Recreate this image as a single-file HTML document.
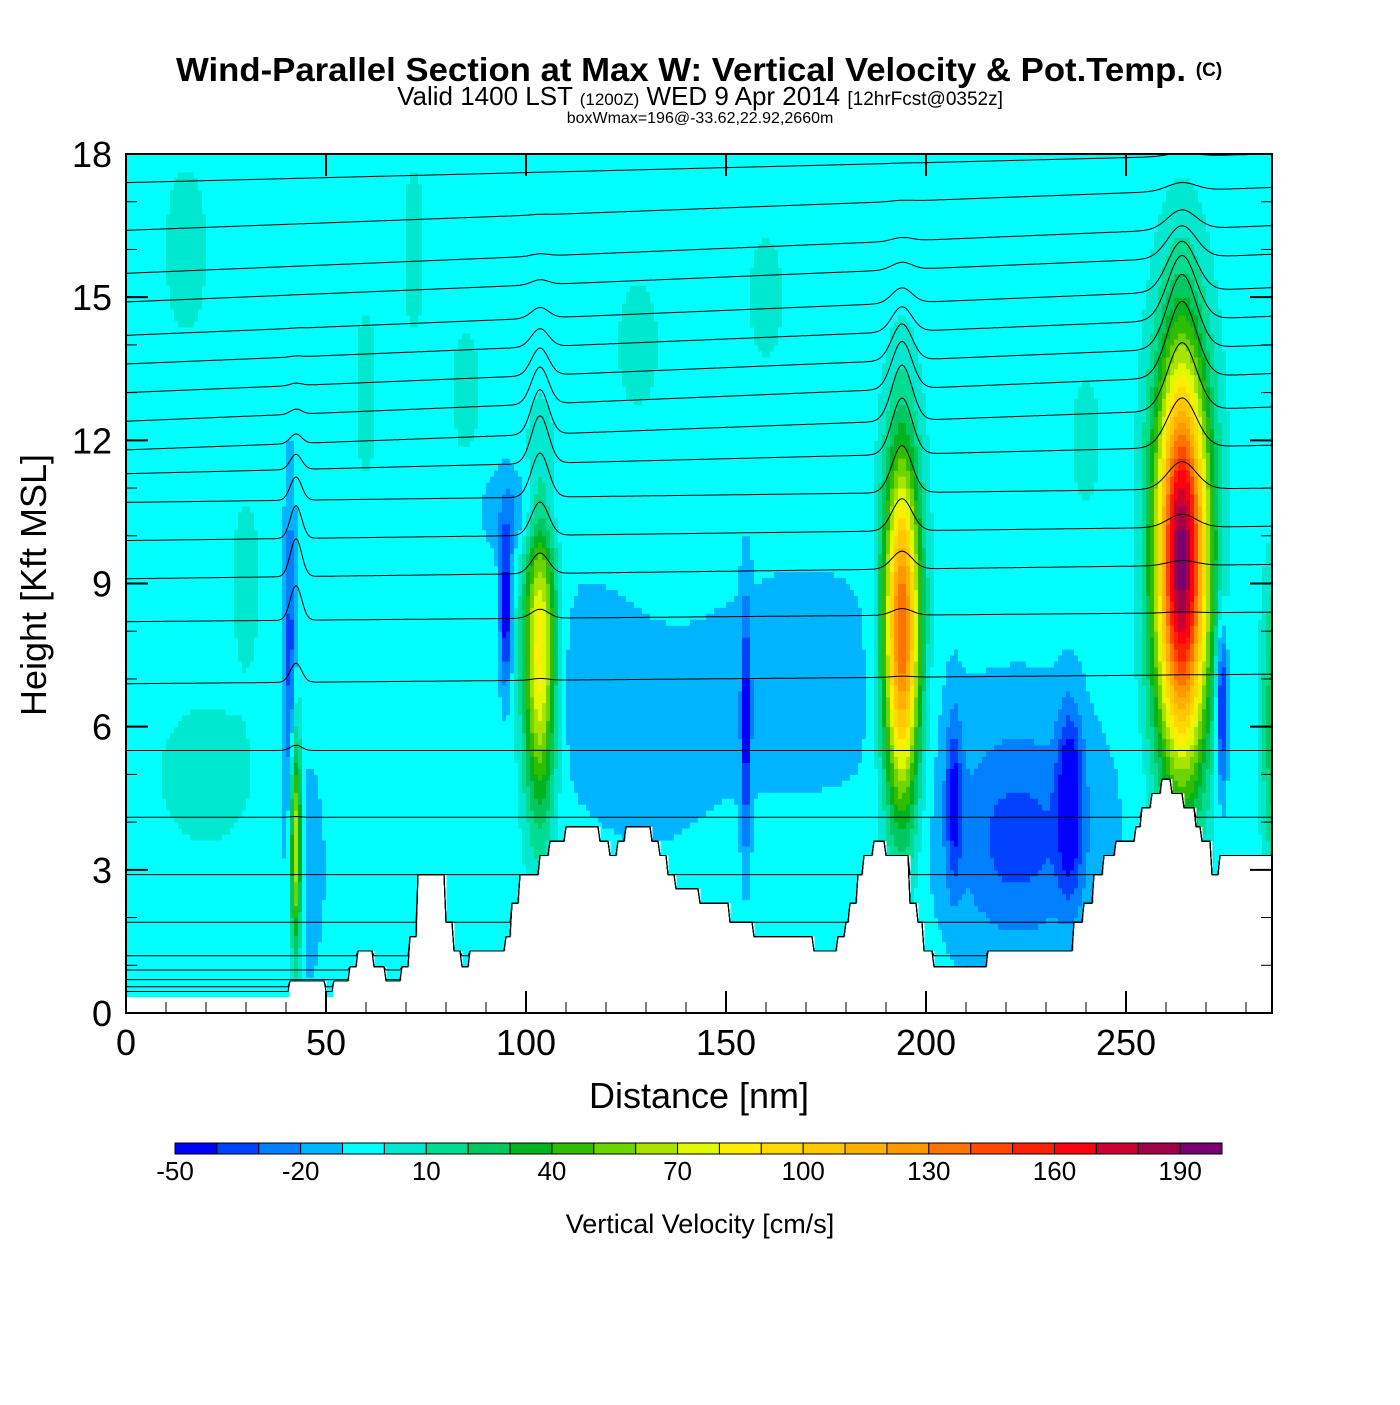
<!DOCTYPE html>
<html><head><meta charset="utf-8"><style>
body{margin:0;background:#fff;}
svg text{font-family:"Liberation Sans",sans-serif;}
</style></head><body>
<svg id="chart" width="1400" height="1400" viewBox="0 0 1400 1400" xmlns="http://www.w3.org/2000/svg">
<defs><clipPath id="plotclip"><rect x="126" y="154" width="1146" height="859"/></clipPath></defs>
<rect width="1400" height="1400" fill="#fff"/>
<text x="176" y="81" font-size="33" font-weight="bold" textLength="1010" lengthAdjust="spacingAndGlyphs">Wind-Parallel Section at Max W: Vertical Velocity &amp; Pot.Temp.</text>
<text x="1209" y="76" text-anchor="middle" font-size="19" font-weight="bold">(C)</text>
<text x="700" y="105" text-anchor="middle" font-size="26">Valid 1400 LST <tspan font-size="17">(1200Z)</tspan> WED 9 Apr 2014 <tspan font-size="19">[12hrFcst@0352z]</tspan></text>
<text x="700" y="123" text-anchor="middle" font-size="16">boxWmax=196@-33.62,22.92,2660m</text>
<g id="field"></g>
<g id="terrain"></g>
<g id="contours" clip-path="url(#plotclip)"></g>
<rect x="126" y="154" width="1146" height="859" fill="none" stroke="#000" stroke-width="2"/>
<g id="axes"></g>
<text x="699" y="1108" text-anchor="middle" font-size="36">Distance [nm]</text>
<text transform="translate(46,585) rotate(-90)" text-anchor="middle" font-size="36">Height [Kft MSL]</text>
<g id="colorbar"></g>
<text x="700" y="1233" text-anchor="middle" font-size="27">Vertical Velocity [cm/s]</text>
</svg>
<script>
// ---- data ----
const xTicks=[0,50,100,150,200,250];
const yTicks=[0,3,6,9,12,15,18];
const cbColors=["#0000ff","#0040ff","#0080ff","#00b4ff","#00ffff","#00e8d0","#00dc90","#00c860","#00b420","#30bc00","#6cd400","#a8e400","#e0f800","#ffee00","#ffd800","#ffc800","#ffb000","#ff9800","#ff7400","#ff4800","#ff2000","#ff0010","#cc0030","#a00048","#780070"];
const cbLabels=[-50,-20,10,40,70,100,130,160,190];
// velocity features: center distance (nm), center height (kft), peak (cm/s), half width (nm), half height (kft)
const blobX=[42.5,103.5,194,264,41,95,155,274,207,236,222,100,170,287,20,60,128,45,160,240,130,225,115,15,30,85,72];
const blobH=[3.5,7.5,8,9.5,7.5,8.5,6,6.5,4.5,4.5,3.5,10.5,7,6,5,13,14,3,15,12,5.5,4,7,16,9,13,16];
const blobW=[85,95,150,200,-30,-45,-38,-48,-30,-42,-15,-18,-9,35,12,10,10,-12,10,10,-7,-15,-10,10,10,10,10];
const blobSX=[1.4,4,4.5,6.5,1.5,1.5,1.2,1.5,2,3,15,10,28,3,12,3,6,5,5,4,20,22,12,6,4,4,3];
const blobSY=[2.3,3.2,3.6,4.2,3.5,1.6,2.5,1.8,1.8,1.8,2,1,3,3,1.5,2,1.5,2.5,1.5,1.5,3,3,2,2,2,1.5,2];
// terrain steps: start distance (nm) and height (kft)
const terrX=[0,41,50,52,56,58,62,65,69,71,73,73.5,80,82,84,86,95,96.5,98.5,103.5,106,110,118.5,121,123,125,131.5,133.5,135.5,137.5,143.5,145,151,157,172,178,180,181,183,184.5,187,190,196,198,199.5,202,205,215.5,237,239.5,242,244.5,247.5,252.5,254,256.5,259,261.5,264.5,267.5,269,271.5,273.5];
const terrH=[0.33,0.67,0.33,0.67,0.97,1.3,0.97,0.67,0.97,1.6,2.9,2.9,1.9,1.3,0.97,1.3,1.6,2.3,2.9,3.3,3.6,3.9,3.6,3.3,3.6,3.9,3.6,3.3,2.9,2.6,2.3,2.3,1.9,1.6,1.3,1.6,1.9,2.3,2.9,3.3,3.6,3.3,2.3,1.9,1.3,0.97,0.97,1.3,1.9,2.3,2.9,3.3,3.6,3.9,4.3,4.6,4.9,4.6,4.3,3.9,3.6,2.9,3.3];
// potential temperature contour base heights at left edge (kft) and rise across domain
const thetaBase=[17.4,16.4,15.5,14.9,14.2,13.6,13.0,12.4,11.8,11.3,10.7,9.9,9.1,8.2,6.9,5.5,4.1,2.9,1.9,1.2,0.9,0.7,0.55,0.45];
const thetaRise=[0.6,0.9,1.0,1.0,1.0,1.0,1.0,1.0,0.9,0.6,0.3,0.3,0.3,0.2,0.2,0,0,0,0,0,0,0,0,0];
// updraft perturbation of contours: distance, amplitude (kft), width (nm), top height (kft)
const bumpX=[42.5,103.5,194,264],bumpA=[0.8,1.0,1.2,1.6],bumpS=[2,3,3.5,5],bumpTop=[9,11.5,12,13.5];
// ---- scales ----
const X0=126,X1=1272,Y0=1013,Y1=154,XMAX=286.5;
const sx=d=>X0+d*(X1-X0)/XMAX;
const sy=h=>Y0-h*(Y0-Y1)/18;
const NS="http://www.w3.org/2000/svg";
function mk(tag,attrs,parent){const e=document.createElementNS(NS,tag);for(const k in attrs)e.setAttribute(k,attrs[k]);parent.appendChild(e);return e;}
function terrainAt(d){let h=terrH[0];for(let i=0;i<terrX.length;i++){if(d>=terrX[i])h=terrH[i];}return h;}
function wAt(d,h){let w=-5;for(let i=0;i<blobX.length;i++){const a=(d-blobX[i])/blobSX[i],b=(h-blobH[i])/blobSY[i];w+=blobW[i]*Math.exp(-a*a-b*b);}return w;}
function colorFor(w){let i=Math.floor((w+50)/10);i=Math.max(0,Math.min(cbColors.length-1,i));return cbColors[i];}
// field
const field=document.getElementById('field');
const DX=1,DH=0.125;
for(let h=0;h<18;h+=DH){
  let start=0,cur=null;
  for(let d=0;d<=XMAX+DX;d+=DX){
    const c=d<XMAX?colorFor(wAt(d+DX/2,h+DH/2)):null;
    if(c!==cur){
      if(cur){const r=mk('rect',{x:sx(start),y:sy(h+DH)-0.5,width:sx(Math.min(d,XMAX))-sx(start)+0.5,height:sy(h)-sy(h+DH)+1,fill:cur},field);
        
        }
      cur=c;start=d;
    }
  }
}
// terrain
const tg=document.getElementById('terrain');
for(let i=0;i<terrX.length;i++){
  const x2=i+1<terrX.length?terrX[i+1]:XMAX;
  const r=mk('rect',{x:sx(terrX[i])-0.5,y:sy(terrH[i]),width:sx(x2)-sx(terrX[i])+1,height:sy(0)-sy(terrH[i]),fill:'#fff'},tg);
  
  
}
// contours
const cg=document.getElementById('contours');
for(let j=0;j<thetaBase.length;j++){
  let p='';
  for(let d=0;d<=XMAX;d+=0.5){
    let h=thetaBase[j]+thetaRise[j]*d/XMAX;
    const h0=h;
    for(let k=0;k<bumpX.length;k++){const a=(d-bumpX[k])/bumpS[k];const t=(h0-bumpTop[k])/2.5;const amp=h0>4?bumpA[k]*Math.exp(-t*t):0;h+=amp*Math.exp(-a*a);}
    h=Math.max(h,terrainAt(d));
    p+=(d===0?'M':'L')+sx(d).toFixed(1)+','+sy(h).toFixed(1);
  }
  const e=mk('path',{d:p,fill:'none',stroke:'#000','stroke-width':1},cg);
  
  
}
// axes
const ax=document.getElementById('axes');
xTicks.forEach(v=>{
  const l=mk('line',{x1:sx(v),x2:sx(v),y1:Y0,y2:Y0-22,stroke:'#000','stroke-width':2},ax);
  
  const l2=mk('line',{x1:sx(v),x2:sx(v),y1:Y1,y2:Y1+22,stroke:'#000','stroke-width':2},ax);
  
  const t=mk('text',{x:sx(v),y:1055,'text-anchor':'middle','font-size':36},ax);t.textContent=v;
  
});
for(let v=10;v<XMAX;v+=10){if(v%50){const l=mk('line',{x1:sx(v),x2:sx(v),y1:Y0,y2:Y0-11,stroke:'#000','stroke-width':1},ax);}}
yTicks.forEach(v=>{
  const l=mk('line',{x1:X0,x2:X0+22,y1:sy(v),y2:sy(v),stroke:'#000','stroke-width':2},ax);
  
  const l2=mk('line',{x1:X1,x2:X1-22,y1:sy(v),y2:sy(v),stroke:'#000','stroke-width':2},ax);
  
  const t=mk('text',{x:112,y:sy(v)+13,'text-anchor':'end','font-size':36},ax);t.textContent=v;
  
});
for(let v=1;v<18;v++){if(v%3){const l=mk('line',{x1:X0,x2:X0+11,y1:sy(v),y2:sy(v),stroke:'#000','stroke-width':1},ax);
const l2=mk('line',{x1:X1,x2:X1-11,y1:sy(v),y2:sy(v),stroke:'#000','stroke-width':1},ax);}}
// colorbar
const cb=document.getElementById('colorbar');
const CB0=175,CB1=1222,bw=(CB1-CB0)/cbColors.length;
cbColors.forEach((c,i)=>{const r=mk('rect',{x:CB0+i*bw,y:1143,width:bw,height:11,fill:c,stroke:'#000','stroke-width':1},cb);
});
cbLabels.forEach(v=>{const t=mk('text',{x:CB0+(v+50)/10*bw,y:1180,'text-anchor':'middle','font-size':26},cb);t.textContent=v;
});
</script>
</body></html>
